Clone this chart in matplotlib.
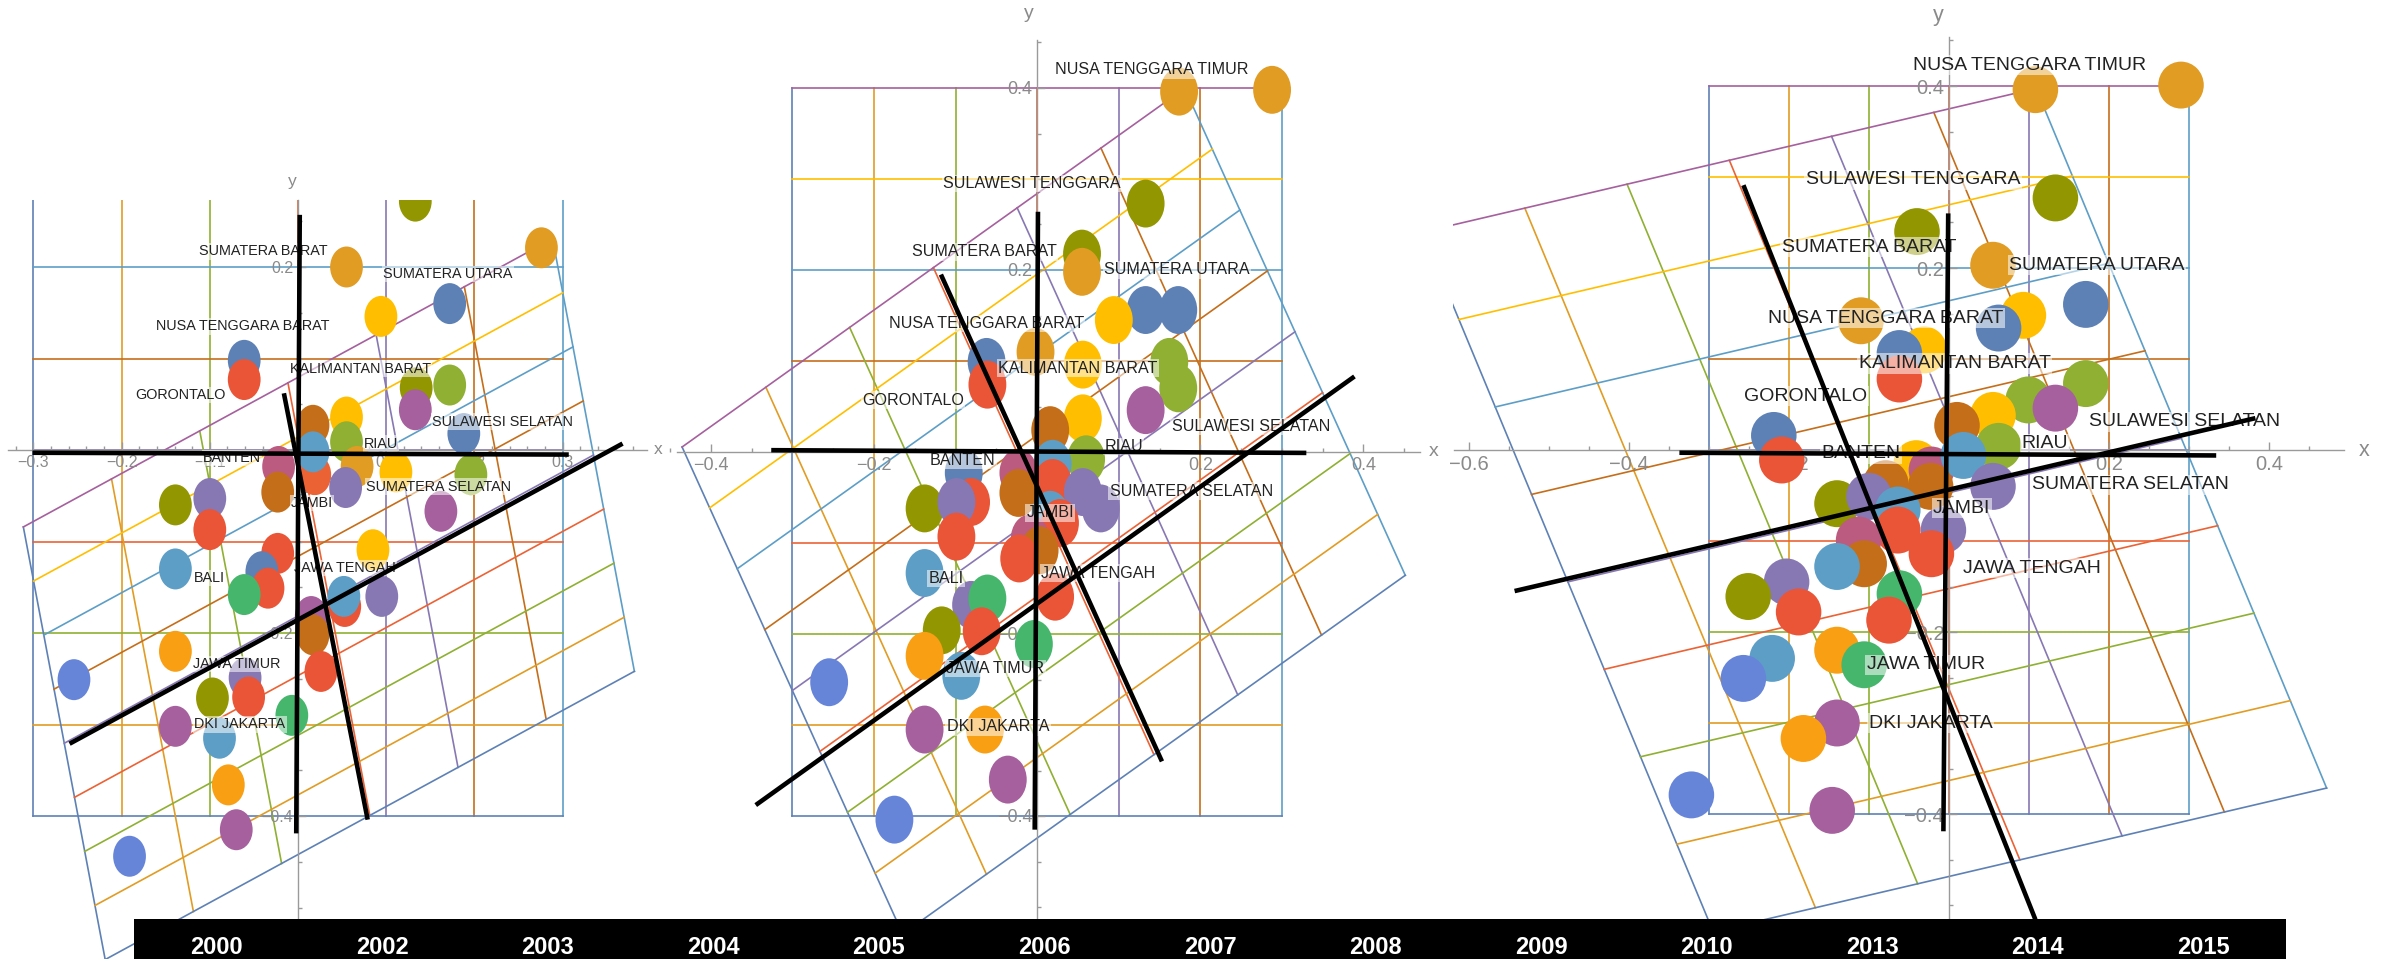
import numpy as np
import matplotlib
matplotlib.use("Agg")
import matplotlib.pyplot as plt
from matplotlib.path import Path
from matplotlib.transforms import Affine2D

plt.rcParams['font.family'] = ['Liberation Sans', 'DejaVu Sans']

W, H, DPI = 2389, 959, 100

palette = ['#5E81B5', '#E19C24', '#8FB032', '#EB6235', '#8778B3', '#C56E1A', '#5D9EC7',
           '#FFBF00', '#A5609D', '#929600', '#E95536', '#6685D9', '#F89F13', '#BC5B80', '#47B66D']

grid_x = [-0.3, -0.2, -0.1, 0.0, 0.1, 0.2, 0.3]
grid_y = [-0.4, -0.3, -0.2, -0.1, 0.0, 0.1, 0.2, 0.3, 0.4]

years = ['2000', '2002', '2003', '2004', '2005', '2006', '2007', '2008', '2009', '2010', '2013', '2014', '2015']

# ---------------- Panel 1 ----------------
p1_x = [0.133, 0.276, 0.055, 0.172, 0.094, -0.061, -0.061, 0.134, 0.172, 0.133, 0.055, 0.017, 0.055,
        0.188, 0.111, 0.196, 0.067, 0.019, 0.017, -0.022, -0.023, 0.054, 0.162, -0.139, -0.100, -0.100,
        -0.139, -0.023, -0.041, -0.034, -0.061, 0.085, 0.053, 0.052, 0.095, 0.015, 0.017, 0.026,
        -0.139, -0.254, -0.060, -0.097, -0.056, -0.007, -0.139, -0.089, -0.079, -0.070, -0.191]
p1_y = [0.272, 0.221, 0.200, 0.160, 0.146, 0.098, 0.077, 0.068, 0.071, 0.044, 0.036, 0.027, 0.009,
        0.018, -0.024, -0.027, -0.018, -0.027, -0.002, -0.018, -0.046, -0.041, -0.067, -0.060, -0.053, -0.087,
        -0.130, -0.113, -0.133, -0.151, -0.158, -0.109, -0.171, -0.160, -0.160, -0.182, -0.202, -0.242,
        -0.220, -0.251, -0.249, -0.271, -0.270, -0.290, -0.302, -0.315, -0.366, -0.415, -0.444]
p1_c = [9, 1, 1, 0, 7, 0, 10, 9, 2, 8, 7, 5, 2,
        0, 7, 2, 1, 3, 6, 13, 5, 4, 8, 9, 4, 10,
        6, 10, 0, 10, 14, 7, 10, 6, 4, 8, 5, 10,
        12, 11, 4, 9, 10, 14, 8, 6, 12, 8, 11]
p1_names = ['SUMATERA BARAT', 'SUMATERA UTARA', 'NUSA TENGGARA BARAT', 'KALIMANTAN BARAT', 'GORONTALO',
            'SULAWESI SELATAN', 'RIAU', 'BANTEN', 'SUMATERA SELATAN', 'JAMBI', 'BALI', 'JAWA TENGAH',
            'JAWA TIMUR', 'DKI JAKARTA']
p1_lx = [-0.039, 0.170, -0.063, 0.071, -0.133, 0.232, 0.094, -0.075, 0.159, 0.016, -0.100, 0.053, -0.070, -0.066]
p1_ly = [0.217, 0.192, 0.135, 0.089, 0.060, 0.031, 0.007, -0.009, -0.040, -0.058, -0.140, -0.129, -0.234, -0.300]
p1_A = [[1.000, -0.116], [0.525, 0.591]]
p1_c0 = [0.035, -0.163]
p1_blx = [[-0.301, 0.307], [0.002, -0.002], [-0.016, 0.079], [0.368, -0.259]]
p1_bly = [[-0.003, -0.005], [0.257, -0.419], [0.062, -0.404], [0.007, -0.321]]

# ---------------- Panel 2 ----------------
p2_x = [0.288, 0.174, 0.133, 0.055, 0.055, 0.133, 0.173, 0.094, -0.062, -0.002, 0.056, -0.061, 0.162,
        0.173, 0.133, 0.056, 0.016, 0.060, 0.019, -0.090, -0.023, 0.019, -0.023, 0.056, 0.078, -0.138,
        -0.081, -0.099, 0.016, 0.028, -0.009, -0.099, 0.003, -0.022, -0.138, 0.022, -0.081, -0.061,
        -0.117, -0.068, -0.004, -0.138, -0.093, -0.255, -0.138, -0.064, -0.036, -0.175]
p2_y = [0.398, 0.396, 0.273, 0.218, 0.198, 0.156, 0.156, 0.145, 0.099, 0.110, 0.096, 0.074, 0.099,
        0.070, 0.046, 0.037, 0.024, -0.008, -0.013, -0.023, -0.023, -0.034, -0.045, -0.044, -0.062, -0.062,
        -0.055, -0.055, -0.069, -0.078, -0.095, -0.093, -0.108, -0.117, -0.133, -0.159, -0.168, -0.161,
        -0.196, -0.197, -0.211, -0.224, -0.246, -0.253, -0.305, -0.305, -0.360, -0.404]
p2_c = [1, 1, 9, 9, 1, 0, 0, 7, 0, 1, 7, 10, 2,
        2, 8, 7, 5, 2, 6, 0, 13, 10, 5, 4, 4, 9,
        10, 4, 6, 10, 13, 10, 5, 10, 6, 10, 4, 14,
        9, 10, 14, 12, 6, 11, 8, 12, 8, 11]
p2_names = ['NUSA TENGGARA TIMUR', 'SULAWESI TENGGARA', 'SUMATERA BARAT', 'SUMATERA UTARA',
            'NUSA TENGGARA BARAT', 'KALIMANTAN BARAT', 'GORONTALO', 'SULAWESI SELATAN', 'RIAU', 'BANTEN',
            'SUMATERA SELATAN', 'JAMBI', 'BALI', 'JAWA TENGAH', 'JAWA TIMUR', 'DKI JAKARTA']
p2_lx = [0.140, -0.006, -0.065, 0.171, -0.062, 0.050, -0.152, 0.262, 0.106, -0.091, 0.189, 0.016, -0.112,
         0.075, -0.051, -0.048]
p2_ly = [0.420, 0.295, 0.220, 0.200, 0.141, 0.092, 0.057, 0.028, 0.006, -0.009, -0.043, -0.067, -0.139,
         -0.133, -0.238, -0.302]
p2_A = [[1.027, -0.338], [0.657, 0.669]]
p2_c0 = [0.008, -0.065]
p2_blx = [[-0.326, 0.330], [0.001, -0.003], [-0.118, 0.153], [0.389, -0.345]]
p2_bly = [[0.002, -0.001], [0.264, -0.415], [0.195, -0.340], [0.083, -0.388]]

# ---------------- Panel 3 ----------------
p3_x = [0.290, 0.108, 0.133, -0.040, 0.055, 0.171, 0.093, 0.062, -0.110, -0.031, -0.062, -0.062, 0.171,
        0.099, 0.133, 0.055, 0.010, 0.062, -0.219, -0.209, -0.041, -0.022, 0.018, -0.079, -0.023, 0.055,
        -0.140, -0.100, -0.064, -0.007, -0.064, -0.113, -0.106, -0.022, -0.140, -0.203, -0.251, -0.188,
        -0.062, -0.075, -0.140, -0.221, -0.106, -0.257, -0.140, -0.182, -0.322, -0.146]
p3_y = [0.401, 0.396, 0.277, 0.240, 0.203, 0.160, 0.148, 0.134, 0.142, 0.110, 0.106, 0.078, 0.073,
        0.055, 0.046, 0.038, 0.027, 0.004, 0.016, -0.011, -0.015, -0.022, -0.006, -0.037, -0.040, -0.040,
        -0.059, -0.051, -0.066, -0.088, -0.088, -0.099, -0.125, -0.114, -0.128, -0.145, -0.161, -0.178,
        -0.158, -0.187, -0.220, -0.229, -0.236, -0.251, -0.300, -0.317, -0.379, -0.396]
p3_c = [1, 1, 9, 9, 1, 0, 7, 0, 1, 7, 0, 10, 2,
        2, 8, 7, 5, 2, 0, 10, 7, 13, 6, 5, 5, 4,
        9, 4, 6, 4, 10, 13, 5, 10, 6, 4, 9, 10,
        14, 10, 12, 6, 14, 11, 8, 12, 11, 8]
p3_names = ['NUSA TENGGARA TIMUR', 'SULAWESI TENGGARA', 'SUMATERA BARAT', 'SUMATERA UTARA',
            'NUSA TENGGARA BARAT', 'KALIMANTAN BARAT', 'GORONTALO', 'SULAWESI SELATAN', 'RIAU', 'BANTEN',
            'SUMATERA SELATAN', 'JAMBI', 'JAWA TENGAH', 'JAWA TIMUR', 'DKI JAKARTA']
p3_lx = [0.101, -0.045, -0.100, 0.185, -0.079, 0.007, -0.179, 0.295, 0.120, -0.110, 0.227, 0.016, 0.104,
         -0.029, -0.023]
p3_ly = [0.423, 0.297, 0.223, 0.203, 0.145, 0.095, 0.059, 0.031, 0.007, -0.004, -0.038, -0.064, -0.130,
         -0.236, -0.300]
p3_A = [[1.278, -0.454], [0.263, 0.961]]
p3_c0 = [-0.093, -0.066]
p3_blx = [[-0.337, 0.334], [-0.001, -0.007], [-0.257, 0.108], [0.383, -0.543]]
p3_bly = [[-0.003, -0.006], [0.260, -0.419], [0.291, -0.516], [0.035, -0.155]]

fig = plt.figure(figsize=(W / DPI, H / DPI), dpi=DPI)
fig.patch.set_facecolor('white')


def make_axes(x0, y0, sx, sy, xlim, ylim):
    left = (x0 + sx * xlim[0]) / W
    width = sx * (xlim[1] - xlim[0]) / W
    top_px = y0 - sy * ylim[1]
    bot_px = y0 - sy * ylim[0]
    ax = fig.add_axes([left, 1 - bot_px / H, width, (bot_px - top_px) / H])
    ax.set_xlim(xlim)
    ax.set_ylim(ylim)
    ax.patch.set_visible(False)
    return ax


def fmt(v):
    return f"{v:g}".replace('-', '\u2212')


def draw_panel(ax, px, py, pc, names, lx, ly, A, c0, blx, bly, xb, yb, xmaj, xmin, ymaj, ymin,
               label_fs, tick_fs, msize, aspect, xlab, ylab):
    A = np.array(A)
    c0 = np.array(c0)[:, None]
    # square grid
    for i, gx in enumerate(grid_x):
        ax.plot([gx, gx], [grid_y[0], grid_y[-1]], color=palette[i], lw=1.2, zorder=1)
    for j, gy in enumerate(grid_y):
        ax.plot([grid_x[0], grid_x[-1]], [gy, gy], color=palette[j], lw=1.2, zorder=1)
    # transformed grid
    for i, gx in enumerate(grid_x):
        pts = A @ np.array([[gx, gx], [grid_y[0], grid_y[-1]]]) + c0
        ax.plot(pts[0], pts[1], color=palette[i], lw=1.2, zorder=1)
    for j, gy in enumerate(grid_y):
        pts = A @ np.array([[grid_x[0], grid_x[-1]], [gy, gy]]) + c0
        ax.plot(pts[0], pts[1], color=palette[j], lw=1.2, zorder=1)
    # axes through origin
    for s in ['top', 'right']:
        ax.spines[s].set_visible(False)
    ax.spines['left'].set_position(('data', 0))
    ax.spines['bottom'].set_position(('data', 0))
    ax.spines['left'].set_bounds(*yb)
    ax.spines['bottom'].set_bounds(*xb)
    for s in ['left', 'bottom']:
        ax.spines[s].set_color('#9a9a9a')
        ax.spines[s].set_linewidth(1.0)
        ax.spines[s].set_zorder(2)
    ax.set_xticks(xmaj)
    ax.set_xticklabels([fmt(v) for v in xmaj])
    ax.set_xticks(xmin, minor=True)
    ax.set_yticks(ymaj)
    ax.set_yticklabels([fmt(v) for v in ymaj])
    ax.set_yticks(ymin, minor=True)
    ax.tick_params(which='both', direction='in', color='#9a9a9a', labelcolor='#8a8a8a',
                   labelsize=tick_fs, width=1)
    ax.tick_params(which='major', length=6)
    ax.tick_params(which='minor', length=3)
    ax.text(xlab[0], xlab[1], 'x', color='#8a8a8a', fontsize=tick_fs + 1, ha='left', va='center',
            clip_on=False)
    ax.text(ylab[0], ylab[1], 'y', color='#8a8a8a', fontsize=tick_fs + 1, ha='center', va='center',
            clip_on=False)
    # points
    marker = Path.unit_circle().transformed(Affine2D().scale(aspect, 1.0))
    ax.scatter(px, py, s=msize ** 2, c=[palette[k] for k in pc], marker=marker, linewidths=0,
               zorder=3)
    # labels
    for n, x, y in zip(names, lx, ly):
        ax.text(x, y, n, ha='center', va='center', fontsize=label_fs, color='#222222', zorder=4,
                bbox=dict(boxstyle='square,pad=0.08', fc='white', ec='none', alpha=0.55))
    # black lines
    for xs, ys in zip(blx, bly):
        ax.plot(xs, ys, color='black', lw=3.3, solid_capstyle='butt', zorder=5)


def ticks(a, b, step, exclude):
    vals = np.round(np.arange(a, b + 1e-9, step), 3)
    return [v for v in vals if all(abs(v - e) > 1e-6 for e in exclude)]


# Panel 1
ax1 = make_axes(298, 450, 882, 915, (-0.335, 0.45), (-0.57, 0.273))
x1maj = [-0.3, -0.2, -0.1, 0.1, 0.2, 0.3]
y1maj = [-0.4, -0.2, 0.2]
draw_panel(ax1, p1_x, p1_y, p1_c, p1_names, p1_lx, p1_ly, p1_A, p1_c0, p1_blx, p1_bly,
           (-0.329, 0.396), (-0.57, 0.273), x1maj, ticks(-0.32, 0.38, 0.02, x1maj + [0.0]),
           y1maj, ticks(-0.55, 0.25, 0.05, y1maj + [0.0]),
           10.4, 11.5, 29.5, 0.80, (0.403, 0.0), (-0.007, 0.293))

# Panel 2
ax2 = make_axes(1035, 452, 820, 910, (-0.445, 0.50), (-0.52, 0.46))
x2maj = [-0.4, -0.2, 0.2, 0.4]
y2maj = [-0.4, -0.2, 0.2, 0.4]
draw_panel(ax2, p2_x, p2_y, p2_c, p2_names, p2_lx, p2_ly, p2_A, p2_c0, p2_blx, p2_bly,
           (-0.441, 0.469), (-0.52, 0.453), x2maj, ticks(-0.45, 0.45, 0.05, x2maj + [0.0]),
           y2maj, ticks(-0.5, 0.45, 0.05, y2maj + [0.0]),
           11.6, 13.0, 34.5, 0.79, (0.48, 0.0), (-0.01, 0.482))

# Panel 3
ax3 = make_axes(1949, 450, 800, 910, (-0.62, 0.55), (-0.52, 0.46))
x3maj = [-0.6, -0.4, -0.2, 0.2, 0.4]
y3maj = [-0.4, -0.2, 0.2, 0.4]
draw_panel(ax3, p3_x, p3_y, p3_c, p3_names, p3_lx, p3_ly, p3_A, p3_c0, p3_blx, p3_bly,
           (-0.619, 0.494), (-0.52, 0.454), x3maj, ticks(-0.6, 0.45, 0.05, x3maj + [0.0]),
           y3maj, ticks(-0.5, 0.45, 0.05, y3maj + [0.0]),
           14.0, 14.5, 33.8, 0.97, (0.512, 0.0), (-0.014, 0.478))

# Black year bar
bar = fig.add_axes([134 / W, 0, (2286 - 134) / W, 40 / H])
bar.set_zorder(10)
bar.set_facecolor('black')
bar.set_xlim(-0.5, len(years) - 0.5)
bar.set_ylim(0, 1)
bar.set_xticks([])
bar.set_yticks([])
for s in bar.spines.values():
    s.set_visible(False)
for i, yr in enumerate(years):
    bar.text(i, 0.30, yr, ha='center', va='center', color='white', fontsize=17, fontweight='bold')

fig.savefig('out.png', dpi=DPI, facecolor='white')
